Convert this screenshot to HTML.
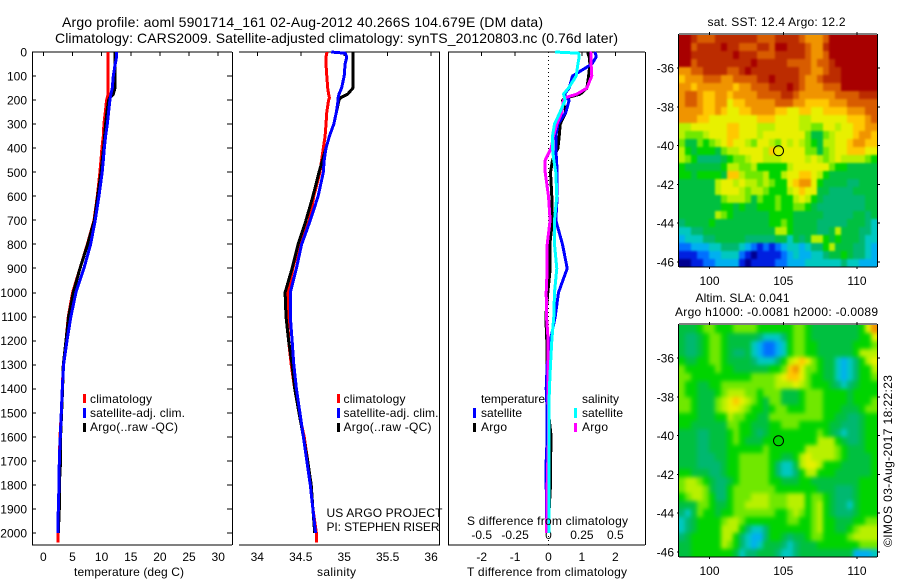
<!DOCTYPE html>
<html lang="en">
<head>
<meta charset="utf-8">
<title>Argo profile 5901714_161</title>
<style>
html,body{margin:0;padding:0;background:#fff;}
svg{display:block;}
text{font-family:"Liberation Sans",Arial,sans-serif;font-size:12px;fill:#000;}
.ttl{font-size:14px;}
</style>
</head>
<body>
<svg id="fig" xmlns="http://www.w3.org/2000/svg" width="900" height="580" viewBox="0 0 900 580">
<rect width="900" height="580" fill="#fff"/>
<text class="ttl" x="62" y="27" textLength="481">Argo profile: aoml 5901714_161 02-Aug-2012 40.266S 104.679E (DM data)</text>
<text class="ttl" x="55" y="43" textLength="563">Climatology: CARS2009. Satellite-adjusted climatology: synTS_20120803.nc (0.76d later)</text>

<g id="p1"></g>
<g id="p2"></g>
<g id="p3"></g>
<g id="m1"></g>
<g id="m2"></g>

<text x="74" y="576" textLength="110">temperature (deg C)</text>
<text x="317" y="576" textLength="39">salinity</text>
<text x="467" y="576" textLength="160">T difference from climatology</text>
<text x="467" y="525" textLength="161">S difference from climatology</text>

<g>
<rect x="83" y="394" width="3" height="9" fill="#f00"/>
<rect x="83" y="408" width="3" height="10" fill="#00f"/>
<rect x="83" y="423" width="3" height="9" fill="#000"/>
<text x="90" y="403" textLength="62">climatology</text>
<text x="90" y="417" textLength="95">satellite-adj. clim.</text>
<text x="90" y="431" textLength="88">Argo(..raw -QC)</text>
</g>
<g>
<rect x="337" y="394" width="3" height="9" fill="#f00"/>
<rect x="337" y="408" width="3" height="10" fill="#00f"/>
<rect x="337" y="423" width="3" height="9" fill="#000"/>
<text x="343.5" y="403" textLength="62">climatology</text>
<text x="343.5" y="417" textLength="95">satellite-adj. clim.</text>
<text x="343.5" y="431" textLength="88">Argo(..raw -QC)</text>
</g>
<text x="326.5" y="517" textLength="116">US ARGO PROJECT</text>
<text x="326.5" y="531" textLength="113">PI: STEPHEN RISER</text>
<g>
<text x="481" y="403" textLength="64">temperature</text>
<text x="582" y="403" textLength="37">salinity</text>
<rect x="473" y="408" width="3" height="10" fill="#00f"/>
<rect x="473" y="423" width="3" height="9" fill="#000"/>
<rect x="574" y="408" width="3" height="10" fill="#0ff"/>
<rect x="574" y="423" width="3" height="9" fill="#f0f"/>
<text x="481" y="417" textLength="41">satellite</text>
<text x="481" y="431" textLength="26">Argo</text>
<text x="582" y="417" textLength="41">satellite</text>
<text x="582" y="431" textLength="26">Argo</text>
</g>

<text x="707.5" y="26" textLength="138">sat. SST: 12.4 Argo: 12.2</text>
<text x="695.5" y="302" textLength="94">Altim. SLA: 0.041</text>
<text x="675" y="316" textLength="203">Argo h1000: -0.0081 h2000: -0.0089</text>
<text transform="translate(892,547) rotate(-90)" x="0" y="0" textLength="172">©IMOS 03-Aug-2017 18:22:23</text>
</svg>

<script>
// ---- profile data ----
const depths = [0,5,20,50,100,150,175,190,200,250,300,350,400,450,500,600,700,800,900,1000,1100,1200,1300,1400,1500,1600,1700,1800,1900,2000,2040];
const depthTicks = [0,100,200,300,400,500,600,700,800,900,1000,1100,1200,1300,1400,1500,1600,1700,1800,1900,2000];
const tempTicks = [0,5,10,15,20,25,30];
const salTicks = [34,34.5,35,35.5,36];
const salTickLabels = ['34','34.5','35','35.5','36'];
const tDiffTicks = [-2,-1,0,1,2];
const sDiffTicks = [-0.5,-0.25,0,0.25,0.5];
const sDiffTickLabels = ['-0.5','-0.25','0','0.25','0.5'];

const tempClim = [11.14,11.14,11.14,11.14,11.14,11.14,11.14,10.97,10.86,10.63,10.4,10.29,10.06,9.89,9.71,9.26,8.69,7.54,6.29,5.03,4.29,3.89,3.43,3.26,3.09,2.86,2.74,2.69,2.57,2.51,2.51];
const tempSat = [12.57,12.57,12.57,12.34,12.0,11.83,11.6,11.49,11.43,11.2,10.97,10.69,10.46,10.29,10.11,9.54,8.91,8.11,6.97,5.6,4.74,4.06,3.49,3.26,3.09,2.91,2.74,2.69,2.57,2.51];
const tempArgo = [12.29,12.29,12.29,12.29,12.29,12.29,12.0,11.43,11.2,10.91,10.69,10.51,10.34,10.11,9.89,9.31,8.74,7.6,6.29,5.14,4.34,3.89,3.43,3.31,3.14,2.97,2.97,2.74,2.74,2.57];

const salClim = [34.80,34.80,34.79,34.79,34.80,34.81,34.82,34.83,34.82,34.80,34.79,34.78,34.76,34.74,34.72,34.65,34.60,34.48,34.41,34.35,34.35,34.36,34.39,34.43,34.48,34.54,34.58,34.61,34.64,34.68,34.68];
const salSat = [34.85,35.01,35.03,35.01,35.00,34.97,34.94,34.93,34.93,34.91,34.88,34.83,34.79,34.77,34.76,34.70,34.61,34.51,34.45,34.38,34.38,34.40,34.42,34.45,34.49,34.53,34.57,34.61,34.64,34.67];
const salArgo = [35.10,35.10,35.10,35.10,35.10,35.10,35.04,34.96,34.94,34.91,34.88,34.83,34.79,34.75,34.71,34.64,34.56,34.47,34.40,34.32,34.33,34.36,34.40,34.43,34.48,34.53,34.58,34.62,34.64,34.66];

const tDiffSat = [1.38,1.40,1.43,1.30,0.72,0.62,0.48,0.52,0.62,0.52,0.28,0.22,0.22,0.24,0.26,0.26,0.22,0.42,0.56,0.30,0.20,0.06,-0.04,-0.07,-0.04,-0.04,-0.07,-0.07,-0.06,-0.05];
const tDiffArgo = [1.18,1.18,1.22,1.24,1.20,1.15,0.95,0.55,0.42,0.52,0.35,0.32,0.28,0.12,0.06,0.10,0.12,0.04,0.05,-0.02,-0.08,-0.05,-0.04,-0.05,0.00,0.08,0.06,0.06,0.02,-0.02];
const sDiffSat = [0.050,0.225,0.230,0.220,0.207,0.150,0.112,0.120,0.125,0.087,0.045,0.030,0.030,0.040,0.055,0.062,0.045,0.045,0.062,0.045,0.040,0.025,0.015,0.007,0.002,0.002,0.002,0.002,0.002,0.002];
const sDiffArgo = [0.324,0.317,0.317,0.319,0.324,0.287,0.212,0.125,0.112,0.100,0.062,0.037,0.020,-0.025,-0.025,0.000,0.012,-0.010,-0.010,-0.017,-0.015,-0.002,-0.005,-0.005,0.000,0.000,-0.005,-0.010,-0.012,-0.015];

// ---- map data: each letter is a colour level, a (lowest) to p (highest) ----
const lonTicks = [100,105,110];
const latTicks = [36,38,40,42,44,46];
const argoLon = [104.679];
const argoLat = [40.266];
const sstRows = [
"pponn noooo ooonn noooo nmmmn ppppp ppp",
"ppnoo oopoo nnnoo nppoo onmmo ppppp ppp",
"ppooo oooop ooonn noooo onmmn ppppp ppp",
"ppnoo ooooo oopoo ooonn nnmnn opppp ppp",
"mmnno ooonn opooo ooooo nnmmn ooppp ppp",
"lmmmn nnmmn nnnoo poooo nmmno ooppp ppp",
"mmlmm mmmml mmnnn ooopo nmmmn nnppp ppp",
"mnnml lmmlm mmmnn nnoon mmmmm mnnnn ooo",
"mnnml lmmkl lmmmm mnnnm mllll mmmnn nnn",
"mmmml lmlkk llmmm mllkk llkkl lllmm mnn",
"mmmll kkkkk kkkll lkkkk jjkkk kkkll lmn",
"jjkkk kkkll kkkjj jkkkk jjiik kjkkl lmm",
"jiiij kkkll kkkjk kkkkk kiggi jkkkl mml",
"iggih ijklk kjikk jikjk jihgj jkklm mll",
"jhghh hgijj kkkkj lkkkk kiigi jkkll lkk",
"jihff ffghi ijkkj jjkkk kjkji jkjjj jih",
"hgggg gghjj iijhh hhhjk kkkkk ihhgg ggg",
"hhghh hhgll jiiij hhjkk llkjh ggggg ggg",
"ggggg gjkkj kjjij ihhkl mmkhg gggff ggg",
"ggggg gjkkk jijji hhhjk lkkgg ffffg ggg",
"ggggg ggijj jigih hihhj kjhgf fffff fgg",
"ggggg gghhg hgghh hihhi ihgff fffff fgg",
"ggggg gjihg ggggg hhhhg ggggf ffffg gfg",
"fgggg hgggg ggggg hhihg gggff fffgg gfe",
"eeffg ggggg ggggg gjjhg gggff gjggg ffe",
"deeef fgggg gffff fggeg fgjjh ghggg fee",
"ccddd eefff edcbc bcdee deffh jgggf fed",
"bbbcc ddeee cbabb bbcde ddeef gghgf fed",
"aabbc cdddd babbb bccdd deeee eefee ddd"
];
const slaRows = [
"ggghi ihhhi iiihh hhhhi ihggg ggggg hkm",
"gffgh iihgg gggfe eefhi ihggg ggggg hhk",
"gffgh iihgg ggedc cdehi ihhgg ggggh hhi",
"gffgh iihgf fgedc cdehi ihhgg ggggh jjj",
"hgghh iihgg ggfee efhjk lkihg gedef hjk",
"ihhhh hihhg ggggg hhilm kiihg gedef hhj",
"iihhh hhhhh hhiii ijkll kihhg gedef hhi",
"ihhgg hhiii iiiii ijjjk jihhh gfefg hhh",
"ihhgg ghijj jiihi iiggg hiiih hhhgh hhh",
"iihgg gijkl kjihg iiggg hiiih hhhgh hhi",
"iihgg gijkk jihhg hiihh hiiih hhggg hii",
"hhhgg ghhji ihhgg iiiii iiiih hggff ghh",
"hhggg gggii hhggg hhiii hhhhh ggfff ghh",
"gggff ggghi hhgfg hhhhh hhhih gfeff ghh",
"gggff ggghi hgggh hhhhh hhhjj jhgff ghh",
"gggff ggghh hhhhi hhhhh hjjjj jihgg ghh",
"gggff fgghh iiiii hhggh jkjjj jihgg ggh",
"gggff ffghh iiiii hfeeg jkkjh hhggg ggh",
"hhggg ffghh iiiii hfeef hjjhh hgggg ggh",
"ijjih gffgh iiiii hhggg hhggg ggggg hhh",
"ijjji gffhi iiiii ihhhh hhhgg gfffg hhh",
"hijji hffhi iijjj iiijj jhiih gfffg hhh",
"gggii hgghi ijjjj iiijj jhijh gffeg hhh",
"fegih hghhi iiiii ihhij ihijh gfffg hhh",
"efghh hhijj ihhhh hhhii hhijh hgggh hii",
"efghh hhjjj hfeef hhhhh hhijh hgghi jjj",
"fghhh hhjjh feddf hhgfg ghiih hhhij jjj",
"gghhh hhjih fedeg ggfef ggghh hhhhh iii",
"gghhh hhhhg effgg gfeef ggggg ggggd dde"
];

// ---- drawing ----
const NS = 'http://www.w3.org/2000/svg';
const levelColors = {a:'#000090',b:'#0020e0',c:'#0070ff',d:'#00b0f0',e:'#00c8c0',f:'#00b870',g:'#00c040',h:'#00d400',i:'#70e800',j:'#b8f000',k:'#e8f000',l:'#ffc800',m:'#f09400',n:'#d85c00',o:'#bc2c00',p:'#a80000'};

function mk(parent, tag, attrs) {
  const el = document.createElementNS(NS, tag);
  for (const k in attrs) el.setAttribute(k, attrs[k]);
  parent.appendChild(el);
  return el;
}
function seg(parent, name, x1, y1, x2, y2) {
  const el = mk(parent, 'line', {x1:x1, y1:y1, x2:x2, y2:y2, stroke:'#000', 'stroke-width':1, 'shape-rendering':'crispEdges'});
  
  
  return el;
}
function label(parent, name, str, x, y, anchor) {
  const el = mk(parent, 'text', {x:x, y:y, 'text-anchor':anchor});
  el.textContent = str;
  
  
  return el;
}
function profile(parent, name, values, xf, color, width) {
  const pts = values.map((v, i) => xf(v).toFixed(1) + ',' + yDepth(depths[i]).toFixed(1)).join(' ');
  const el = mk(parent, 'polyline', {points:pts, fill:'none', stroke:color, 'stroke-width':width, 'stroke-linejoin':'bevel', 'shape-rendering':'crispEdges'});
  
  
  return el;
}

const yDepth = d => 52 + d * 0.2405;
const xTemp = t => 43.3 + t * 5.83;
const xSal = s => 257.3 + (s - 34) * 86.9;
const xTDiff = t => 548.5 + t * 33.4;
const xSDiff = s => 548.5 + s * 133.6;
const TOP = 52, BOT = 545;

// Temperature panel
const p1 = document.getElementById('p1');
seg(p1, 'temperature-axis-top', 32, TOP, 232, TOP);
seg(p1, 'temperature-axis-bottom', 32, BOT, 232, BOT);
seg(p1, 'temperature-axis-left', 32.5, TOP, 32.5, BOT);
seg(p1, 'temperature-axis-right', 232.5, TOP, 232.5, BOT);
depthTicks.forEach(d => {
  seg(p1, 'depth-tick', 227, Math.round(yDepth(d)), 232, Math.round(yDepth(d)));
  seg(p1, 'depth-tick', 33, Math.round(yDepth(d)), 36, Math.round(yDepth(d)));
  label(p1, 'depth-tick-label', String(d), 27, yDepth(d) + 4.5, 'end');
});
tempTicks.forEach(t => {
  seg(p1, 'temperature-tick', xTemp(t), TOP, xTemp(t), TOP + 4);
  label(p1, 'temperature-tick-label', String(t), xTemp(t), 561, 'middle');
});
profile(p1, 'temperature-climatology-line', tempClim, xTemp, '#f00', 3);
profile(p1, 'temperature-argo-line', tempArgo, xTemp, '#000', 3);
profile(p1, 'temperature-satellite-line', tempSat, xTemp, '#00f', 3);

// Salinity panel
const p2 = document.getElementById('p2');
seg(p2, 'salinity-axis-top', 239, TOP, 440, TOP);
seg(p2, 'salinity-axis-bottom', 239, BOT, 440, BOT);
seg(p2, 'salinity-axis-right', 439.5, TOP, 439.5, BOT);
salTicks.forEach((s, i) => {
  seg(p2, 'salinity-tick', xSal(s), TOP, xSal(s), TOP + 4);
  label(p2, 'salinity-tick-label', salTickLabels[i], xSal(s), 561, 'middle');
});
profile(p2, 'salinity-climatology-line', salClim, xSal, '#f00', 3);
profile(p2, 'salinity-argo-line', salArgo, xSal, '#000', 3);
profile(p2, 'salinity-satellite-line', salSat, xSal, '#00f', 3);

// Difference panel
const p3 = document.getElementById('p3');
seg(p3, 'difference-axis-top', 448, TOP, 645, TOP);
seg(p3, 'difference-axis-bottom', 448, BOT, 645, BOT);
seg(p3, 'difference-axis-left', 448.5, TOP, 448.5, BOT);
seg(p3, 'difference-axis-right', 645.5, TOP, 645.5, BOT);
const zeroLine = mk(p3, 'line', {x1:xTDiff(0), y1:TOP, x2:xTDiff(0), y2:BOT, stroke:'#000', 'stroke-width':1, 'stroke-dasharray':'1 3', 'shape-rendering':'crispEdges'});


tDiffTicks.forEach(t => {
  if (t !== 0) seg(p3, 't-difference-tick', xTDiff(t), TOP, xTDiff(t), TOP + 4);
  label(p3, 't-difference-tick-label', String(t), xTDiff(t), 561, 'middle');
});
sDiffTicks.forEach((s, i) => {
  label(p3, 's-difference-tick-label', sDiffTickLabels[i], xSDiff(s), 539, 'middle');
});
profile(p3, 't-difference-argo-line', tDiffArgo, xTDiff, '#000', 3);
profile(p3, 't-difference-satellite-line', tDiffSat, xTDiff, '#00f', 3);
profile(p3, 's-difference-argo-line', sDiffArgo, xSDiff, '#f0f', 3);
profile(p3, 's-difference-satellite-line', sDiffSat, xSDiff, '#0ff', 3);

// Maps
const svgRoot = document.getElementById('fig');
const defs = mk(svgRoot, 'defs', {});
function drawMap(id, rows, top, prefix, xLabelY, blurAmount) {
  const g = document.getElementById(id);
  const left = 679, right = 877, bottom = top + 232;
  const xLon = lon => 709.5 + (lon - 100) * 14.75;
  const yLat = lat => top + 33 + (lat - 36) * 19.4;
  const cw = 6, ch = 8, pad = 8;
  const clip = mk(defs, 'clipPath', {id:prefix + '-clip'});
  mk(clip, 'rect', {x:left, y:top, width:right - left, height:bottom - top});
  const filt = mk(defs, 'filter', {id:prefix + '-blur', filterUnits:'userSpaceOnUse', x:left - 20, y:top - 20, width:right - left + 40, height:bottom - top + 40, 'color-interpolation-filters':'sRGB'});
  mk(filt, 'feGaussianBlur', {stdDeviation:blurAmount});
  const clipped = mk(g, 'g', {'clip-path':'url(#' + prefix + '-clip)'});
  const blurred = mk(clipped, 'g', {filter:'url(#' + prefix + '-blur)'});
  
  
  rows.forEach((row, r) => {
    const chars = row.replace(/ /g, '');
    for (let c = 0; c < 33; c++) {
      const level = chars[Math.min(c, chars.length - 1)];
      const x0 = c === 0 ? left - pad : left + c * cw;
      const x1 = c === 32 ? right + pad : left + (c + 1) * cw;
      const y0 = r === 0 ? top - pad : top + r * ch;
      const y1 = r === rows.length - 1 ? bottom + pad : top + (r + 1) * ch;
      const cell = mk(blurred, 'rect', {x:x0, y:y0, width:x1 - x0, height:y1 - y0, fill:levelColors[level], 'shape-rendering':'crispEdges'});
      
      
    }
  });
  seg(g, prefix + '-axis-top', left, top - 1, right, top - 1);
  seg(g, prefix + '-axis-bottom', left, bottom, right, bottom);
  seg(g, prefix + '-axis-left', left - 0.5, top - 1, left - 0.5, bottom);
  seg(g, prefix + '-axis-right', right + 0.5, top - 1, right + 0.5, bottom);
  lonTicks.forEach(lon => {
    seg(g, prefix + '-lon-tick', xLon(lon), top - 3, xLon(lon), top);
    seg(g, prefix + '-lon-tick', xLon(lon), bottom, xLon(lon), bottom + 2);
    label(g, prefix + '-lon-label', String(lon), xLon(lon), xLabelY, 'middle');
  });
  latTicks.forEach(lat => {
    seg(g, prefix + '-lat-tick', right, yLat(lat), right + 3, yLat(lat));
    seg(g, prefix + '-lat-tick', left - 2, yLat(lat), left, yLat(lat));
    label(g, prefix + '-lat-label', '-' + lat, 674, yLat(lat) + 4.5, 'end');
  });
  argoLon.forEach((lon, i) => {
    const dot = mk(g, 'circle', {cx:xLon(lon), cy:yLat(argoLat[i]), r:5, fill:'none', stroke:'#000', 'stroke-width':1});
    
    
  });
}
drawMap('m1', sstRows, 35, 'sst', 285, 1);
drawMap('m2', slaRows, 325, 'sla', 575, 2.2);
</script>
</body>
</html>
